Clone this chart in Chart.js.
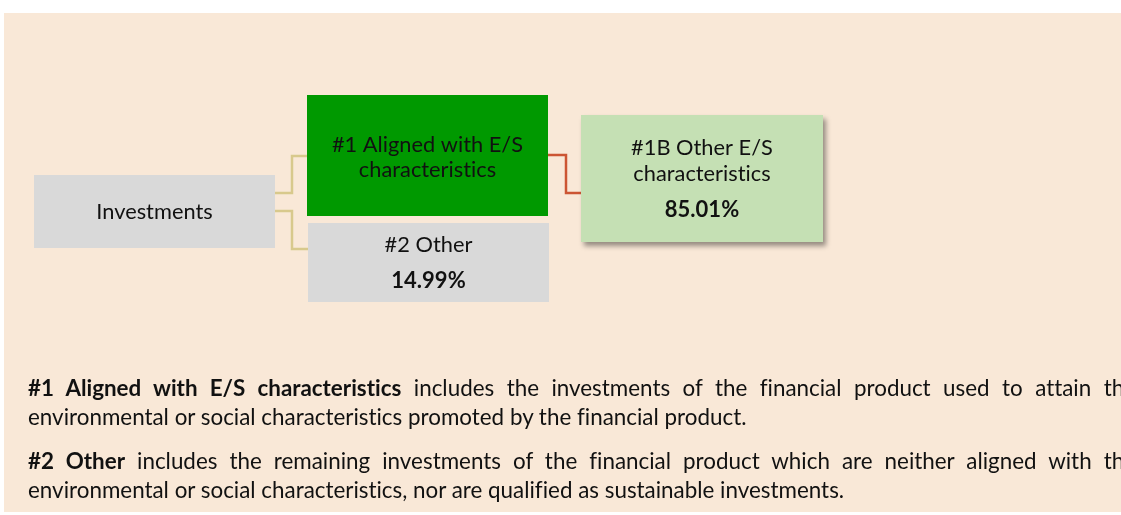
<!DOCTYPE html>
<html>
<head>
<meta charset="utf-8">
<script src="https://cdn.jsdelivr.net/npm/chart.js@4.4.1/dist/chart.umd.min.js"></script>
<style>
html,body{margin:0;padding:0;background:#fff;width:1121px;height:515px;overflow:hidden;}
#bg{position:absolute;left:4px;top:13px;width:1130px;height:499px;background:#F9E8D7;}
#c{position:absolute;left:0;top:0;}
.notes{position:absolute;left:28px;top:373px;font-family:Lato,"Noto Sans",sans-serif;font-size:22.4px;color:#111;font-variant-ligatures:none;}
.ln{white-space:nowrap;height:29px;line-height:29px;}
.just{width:1108px;text-align:justify;text-align-last:justify;white-space:normal;}
.gap{height:15px;}
</style>
</head>
<body>
<div id="bg"></div>
<canvas id="c" width="1121" height="515"></canvas>
<div class="notes">
<div class="ln just"><b>#1 Aligned with E/S characteristics</b> includes the investments of the financial product used to attain the</div>
<div class="ln">environmental or social characteristics promoted by the financial product.</div>
<div class="gap"></div>
<div class="ln just"><b>#2 Other</b> includes the remaining investments of the financial product which are neither aligned with the</div>
<div class="ln">environmental or social characteristics, nor are qualified as sustainable investments.</div>
</div>
<script>
// =============================
// ASSET ALLOCATION TREE
// =============================

// data
const nodeLines = [
["Investments"],
["#1 Aligned with E/S","characteristics"],
["#2 Other"],
["#1B Other E/S","characteristics"]
];
const nodeShares = [null, null, 14.99, 85.01];
const nodeParent = [-1, 0, 0, 1];

// layout (chart units)
const boxLeft = [34, 307, 308, 581];
const boxRight = [275, 548, 549, 823];
const boxTop = [175, 95, 223, 115];
const boxBottom = [248, 216, 302, 242];
const boxFill = ["#D9D9D9","#009900","#D9D9D9","#C5E0B4"];
const textBase = [[219],[152,177],[252],[155,181]];
const shareBase = [null,null,288,217];
const linkOut = [null,193,211,155];   // y leaving parent
const linkIn = [null,156,249,193];    // y entering child
const linkMid = [null,292,292,566];
const linkColor = [null,"#D8C98C","#D8C98C","#CC5533"];

const centers = boxLeft.map((l,i)=>({x:(l+boxRight[i])/2, y:(boxTop[i]+boxBottom[i])/2}));

const treePlugin = {
id:"tree",
afterDatasetsDraw(chart){
const ctx = chart.ctx;
const sx = chart.scales.x, sy = chart.scales.y;
const X = v=>sx.getPixelForValue(v);
const Y = v=>sy.getPixelForValue(v);

// connectors
nodeParent.forEach((p,i)=>{
if(p<0) return;
ctx.save();
ctx.strokeStyle = linkColor[i];
ctx.lineWidth = 2.5;
ctx.beginPath();
ctx.moveTo(X(boxRight[p]),Y(linkOut[i]));
ctx.lineTo(X(linkMid[i]),Y(linkOut[i]));
ctx.lineTo(X(linkMid[i]),Y(linkIn[i]));
ctx.lineTo(X(boxLeft[i]),Y(linkIn[i]));
ctx.stroke();
ctx.restore();
});

// boxes
nodeLines.forEach((lines,i)=>{
const x0 = X(boxLeft[i]), x1 = X(boxRight[i]);
const y0 = Y(boxTop[i]), y1 = Y(boxBottom[i]);
ctx.save();
if(i===3){
ctx.shadowColor="rgba(0,0,0,0.4)";
ctx.shadowBlur=5;
ctx.shadowOffsetX=3;
ctx.shadowOffsetY=4;
}
ctx.fillStyle = boxFill[i];
ctx.fillRect(x0,y0,x1-x0,y1-y0);
ctx.restore();

ctx.save();
ctx.fillStyle="#111";
ctx.textAlign="center";
ctx.textBaseline="alphabetic";
ctx.letterSpacing="0.01px"; // keeps "ti" from joining
ctx.font = "21.8px Lato, 'Noto Sans', sans-serif";
const cx = (x0+x1)/2;
lines.forEach((t,k)=>{
ctx.fillText(t,cx,Y(textBase[i][k]));
});
if(nodeShares[i]!==null){
ctx.font = "bold 22px Lato, 'Noto Sans', sans-serif";
ctx.fillText(nodeShares[i].toFixed(2)+"%",cx,Y(shareBase[i]));
}
ctx.restore();
});
}
};

new Chart(document.getElementById("c"),{
type:"scatter",
data:{
datasets:[{
label:"nodes",
data:centers,
pointRadius:0
}]
},
options:{
responsive:false,
animation:false,
layout:{padding:0},
plugins:{legend:{display:false},tooltip:{enabled:false}},
scales:{
x:{type:"linear",min:0,max:1121,display:false},
y:{type:"linear",min:0,max:515,reverse:true,display:false}
}
},
plugins:[treePlugin]
});
</script>
</body>
</html>
